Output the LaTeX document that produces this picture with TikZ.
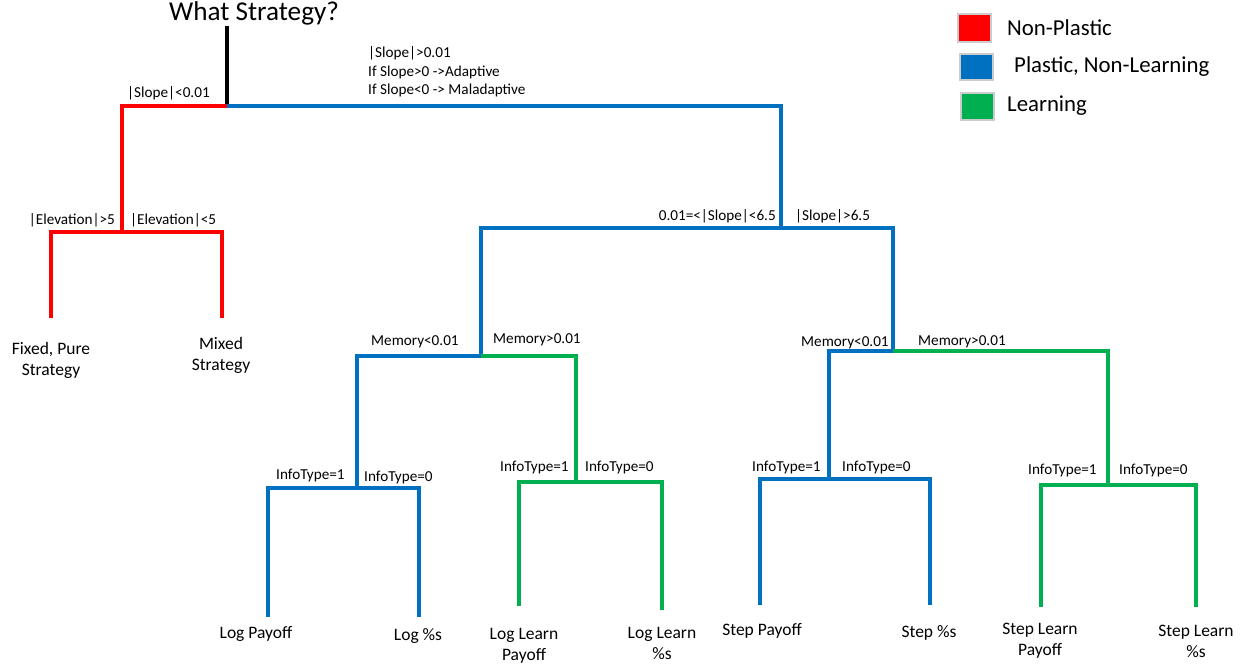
\documentclass[tikz,border=0pt]{standalone}
\usepackage{fontspec}
\setmainfont{Carlito}
\definecolor{cred}{HTML}{FF0000}
\definecolor{cblue}{HTML}{0070C0}
\definecolor{cgreen}{HTML}{00B050}
\begin{document}
\begin{tikzpicture}[x=1pt,y=-1pt,
  redline/.style={line width=4pt, draw=cred},
  blueline/.style={line width=4pt, draw=cblue},
  greenline/.style={line width=4pt, draw=cgreen},
  blackline/.style={line width=4pt, draw=black},
  lab/.style={inner sep=0pt, font=\fontsize{15.2}{18.5}\selectfont},
  leaf/.style={inner sep=0pt, align=center, font=\fontsize{17.5}{21}\selectfont},
  legbox/.style={draw=gray!40, line width=1.2pt, minimum width=33pt, minimum height=27pt, inner sep=0pt},
  legtext/.style={inner sep=0pt, anchor=west, font=\fontsize{22.8}{26}\selectfont}]
\useasboundingbox (0,0) rectangle (1246,668);

% title
\node[inner sep=0pt, font=\fontsize{27.2}{30}\selectfont] (title) at (254,13) {What Strategy?};

% junction coordinates
\coordinate (r0) at (227,26);
\coordinate (j0) at (227,106);
\coordinate (jE) at (122,232);
\coordinate (eF) at (51,318);
\coordinate (eM) at (222,318);
\coordinate (jS) at (781,228);
\coordinate (jM1) at (481,356);
\coordinate (jM2) at (893,351);
\coordinate (jI1) at (357,488);
\coordinate (jI2) at (576,482);
\coordinate (jI3) at (829,479);
\coordinate (jI4) at (1108,485);
\coordinate (eLP) at (268,617);
\coordinate (eLs) at (419,617);
\coordinate (eLLP) at (519,606);
\coordinate (eLLs) at (662,610);
\coordinate (eSP) at (760,605);
\coordinate (eSs) at (930,605);
\coordinate (eSLP) at (1041,607);
\coordinate (eSLs) at (1196,607);

% connectors
\draw[blackline] (r0) -- (j0);
\draw[redline] (j0) -| (jE);
\draw[redline] (eF) |- (jE) -| (eM);
\draw[blueline] (j0) -| (jS);
\draw[blueline] (jM1) |- (jS) -| (jM2);
\draw[blueline] (jM1) -| (jI1);
\draw[greenline] (jM1) -| (jI2);
\draw[blueline] (eLP) |- (jI1) -| (eLs);
\draw[greenline] (eLLP) |- (jI2) -| (eLLs);
\draw[blueline] (jM2) -| (jI3);
\draw[greenline] (jM2) -| (jI4);
\draw[blueline] (eSP) |- (jI3) -| (eSs);
\draw[greenline] (eSLP) |- (jI4) -| (eSLs);

% branch labels
\node[lab, anchor=west] (l1) at (127,93) {|Slope|<0.01};
\node[lab, anchor=west, align=left] (l2) at (368,72) {|Slope|>0.01\\If Slope>0 ->Adaptive\\If Slope<0 -> Maladaptive};
\node[lab, anchor=east] (l3) at (115,220) {|Elevation|>5};
\node[lab, anchor=west] (l4) at (130,220) {|Elevation|<5};
\node[lab, anchor=east] (l5) at (776,216) {0.01=<|Slope|<6.5};
\node[lab, anchor=west] (l6) at (795,216) {|Slope|>6.5};
\node[lab, anchor=west] (l7) at (371,342) {Memory<0.01};
\node[lab, anchor=west] (l8) at (493,340) {Memory>0.01};
\node[lab, anchor=west] (l9) at (801,343) {Memory<0.01};
\node[lab, anchor=west] (l10) at (918,342) {Memory>0.01};
\node[lab, anchor=west] (l11) at (276,476) {InfoType=1};
\node[lab, anchor=west] (l12) at (364,478) {InfoType=0};
\node[lab, anchor=west] (l13) at (500,468) {InfoType=1};
\node[lab, anchor=west] (l14) at (585,468) {InfoType=0};
\node[lab, anchor=west] (l15) at (752,468) {InfoType=1};
\node[lab, anchor=west] (l16) at (842,468) {InfoType=0};
\node[lab, anchor=west] (l17) at (1028,471) {InfoType=1};
\node[lab, anchor=west] (l18) at (1119,471) {InfoType=0};

% leaves
\node[leaf] (fixed) at (51,360) {Fixed, Pure\\Strategy};
\node[leaf] (mixed) at (221,355) {Mixed\\Strategy};
\node[leaf] (logpay) at (256,634) {Log Payoff};
\node[leaf] (logs) at (418,636) {Log \%s};
\node[leaf] (loglpay) at (524,646) {Log Learn\\Payoff};
\node[leaf] (logls) at (662,643) {Log Learn\\\%s};
\node[leaf] (steppay) at (762,631) {Step Payoff};
\node[leaf] (steps) at (929,633) {Step \%s};
\node[leaf] (steplpay) at (1040,641) {Step Learn\\Payoff};
\node[leaf] (stepls) at (1196,641) {Step Learn\\\%s};

% legend
\node[legbox, fill=cred, minimum height=28pt] (k1) at (974.5,28) {};
\node[legbox, fill=cblue, minimum height=26pt] (k2) at (976.5,67) {};
\node[legbox, fill=cgreen] (k3) at (977.5,106.5) {};
\node[legtext] (t1) at (1007,28) {Non-Plastic};
\node[legtext] (t2) at (1014,67) {Plastic, Non-Learning};
\node[legtext] (t3) at (1007,106) {Learning};
\end{tikzpicture}
\end{document}
